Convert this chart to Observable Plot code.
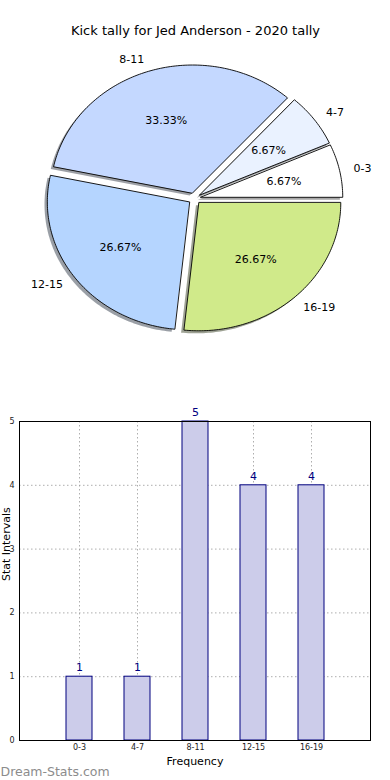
<!DOCTYPE html>
<html>
<head>
<meta charset="utf-8">
<script src="https://cdn.jsdelivr.net/npm/d3@7"></script>
<script src="https://cdn.jsdelivr.net/npm/@observablehq/plot@0.6"></script>
<style>
  html, body { margin: 0; padding: 0; background: #fff; }
  #chart { width: 390px; height: 780px; font-family: "DejaVu Sans", sans-serif; }
  #chart svg { display: block; }
</style>
</head>
<body>
<div id="chart"></div>
<script>
// ---- data ----
const title = "Kick tally for Jed Anderson - 2020 tally";
const categories = ["0-3", "4-7", "8-11", "12-15", "16-19"];
const counts = [1, 1, 5, 4, 4];
const pieColors = ["#ffffff", "#eaf2ff", "#c4d8ff", "#b5d5ff", "#d0ea8a"];
const explode = [0.045, 0.045, 0.045, 0.045, 0.045];
const yTicks = [0, 1, 2, 3, 4, 5];
const xLabel = "Frequency";
const yLabel = "Stat Intervals";
const watermark = "Dream-Stats.com";

const FONT = "DejaVu Sans, sans-serif";

// ---- pie geometry (unit circle, angles from data) ----
const total = d3.sum(counts);
const wedgePts = [], shadowPts = [], nameLabels = [], pctLabels = [];
let acc = 0;
counts.forEach((v, i) => {
  const a0 = acc, a1 = acc + 360 * v / total;
  acc = a1;
  const mid = (a0 + a1) / 2 * Math.PI / 180;
  const ox = explode[i] * Math.cos(mid), oy = explode[i] * Math.sin(mid);
  const pts = [{slice: i, x: ox, y: oy}];
  const n = Math.max(2, Math.ceil(a1 - a0));
  for (let k = 0; k <= n; k++) {
    const t = (a0 + (a1 - a0) * k / n) * Math.PI / 180;
    pts.push({slice: i, x: ox + Math.cos(t), y: oy + Math.sin(t)});
  }
  pts.forEach(p => { wedgePts.push(p); shadowPts.push({slice: i, x: p.x - 0.02, y: p.y - 0.02}); });
  const lx = ox + 1.1 * Math.cos(mid), ly = oy + 1.1 * Math.sin(mid);
  nameLabels.push({x: lx, y: ly, text: categories[i], anchor: lx > 0 ? "start" : "end"});
  pctLabels.push({x: ox + 0.6 * Math.cos(mid), y: oy + 0.6 * Math.sin(mid), text: (100 * v / total).toFixed(2) + "%"});
});

function darker(c) {
  const r = d3.rgb(c);
  return d3.rgb(r.r * 0.3, r.g * 0.3, r.b * 0.3).formatHex();
}

const pieMarks = [];
categories.forEach((c, i) => {
  pieMarks.push(Plot.line(shadowPts.filter(p => p.slice === i), {
    x: "x", y: "y", curve: "linear-closed",
    fill: darker(pieColors[i]), fillOpacity: 0.5, stroke: "none"
  }));
});
categories.forEach((c, i) => {
  pieMarks.push(Plot.line(wedgePts.filter(p => p.slice === i), {
    x: "x", y: "y", curve: "linear-closed",
    fill: pieColors[i], stroke: "#000", strokeWidth: 0.9
  }));
});
pieMarks.push(Plot.text(nameLabels.filter(d => d.anchor === "start"), {x: "x", y: "y", text: "text", textAnchor: "start", fontSize: 11, fill: "#000"}));
pieMarks.push(Plot.text(nameLabels.filter(d => d.anchor === "end"), {x: "x", y: "y", text: "text", textAnchor: "end", fontSize: 11, fill: "#000"}));
pieMarks.push(Plot.text(pctLabels, {x: "x", y: "y", text: "text", fontSize: 11, fill: "#000"}));
pieMarks.push(Plot.text([title], {frameAnchor: "top", lineAnchor: "middle", dy: 30, fontSize: 13, fill: "#000"}));

const pie = Plot.plot({
  width: 390, height: 390,
  margin: 0,
  style: {fontFamily: FONT, background: "#fff"},
  x: {type: "linear", domain: [-1.5, 1.5], range: [194 - 213, 194 + 213], axis: null},
  y: {type: "linear", domain: [-1.5, 1.5], range: [198 + 192, 198 - 192], axis: null},
  marks: pieMarks
});

// ---- bar chart ----
const barData = categories.map((c, i) => ({cat: c, value: counts[i]}));
const bars = Plot.plot({
  width: 390, height: 390,
  marginTop: 31, marginBottom: 40, marginLeft: 19, marginRight: 20,
  style: {fontFamily: FONT, background: "#fff"},
  x: {type: "band", domain: categories, paddingInner: 0.556, paddingOuter: 0.778, label: null},
  y: {domain: [0, 5], label: null},
  marks: [
    Plot.gridX({stroke: "#9a9a9a", strokeOpacity: 0.8, strokeDasharray: "1.5,2.5"}),
    Plot.gridY(yTicks, {stroke: "#9a9a9a", strokeOpacity: 0.8, strokeDasharray: "1.5,2.5"}),
    Plot.barY(barData, {x: "cat", y: "value", fill: "#ccccea", stroke: "#00007f", strokeWidth: 1}),
    Plot.text(barData, {x: "cat", y: "value", text: d => String(d.value), dy: -9, fill: "#00007f", fontSize: 11}),
    Plot.frame({stroke: "#000", strokeWidth: 1}),
    Plot.axisY(yTicks, {tickSize: 0, tickPadding: 5, fontSize: 8, label: null, tickFormat: d => String(d), color: "#222"}),
    Plot.axisX({tickSize: 0, tickPadding: 4, fontSize: 8, label: null, color: "#222"}),
    Plot.text([xLabel], {frameAnchor: "bottom", lineAnchor: "middle", dy: 21, fontSize: 11, fill: "#000"}),
    Plot.text([yLabel], {frameAnchor: "left", dx: -13, rotate: -90, fontSize: 11, fill: "#000"}),
    Plot.text([watermark], {frameAnchor: "bottom-left", lineAnchor: "middle", dx: -19, dy: 31, textAnchor: "start", fontSize: 12.5, fill: "#8c8c8c"})
  ]
});

const root = document.getElementById("chart");
root.appendChild(pie);
root.appendChild(bars);
</script>
</body>
</html>
